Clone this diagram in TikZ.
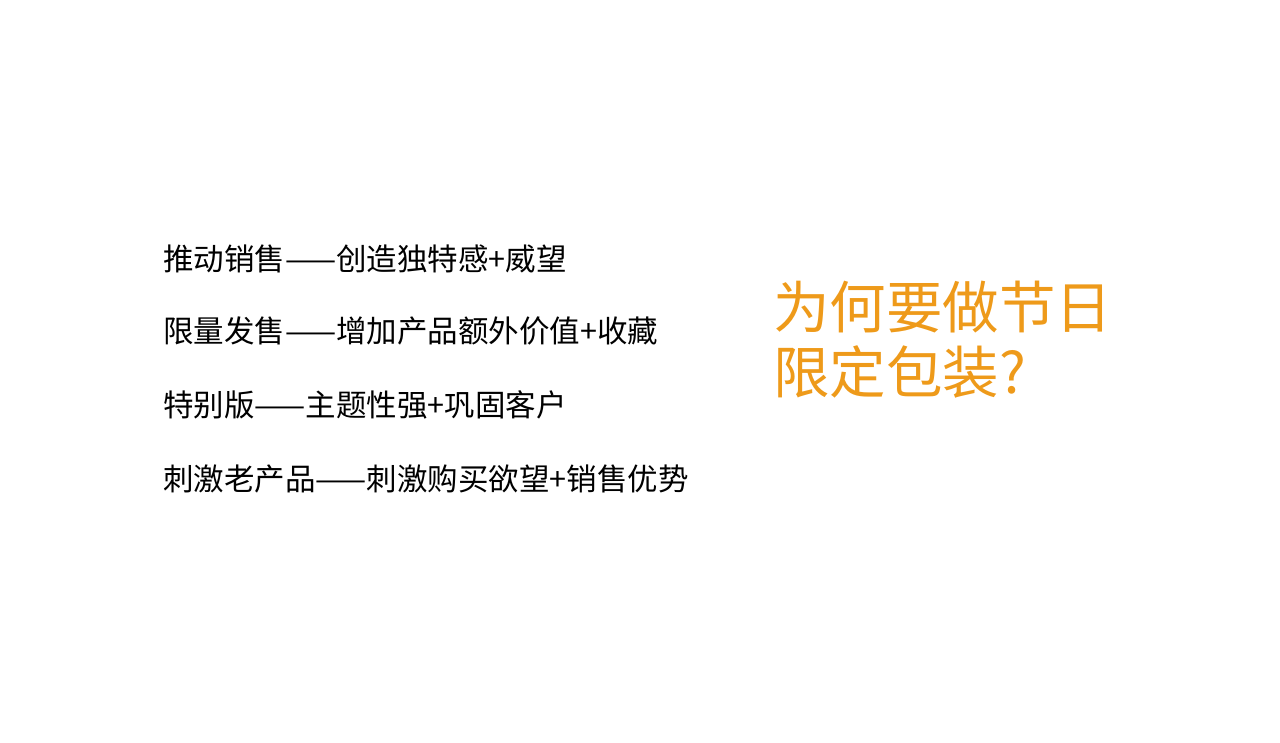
\documentclass[tikz,border=0pt]{standalone}
\usepackage{fontspec}
\newfontfamily\cjk{Noto Sans CJK SC}
\definecolor{org}{HTML}{EE9A1A}
\begin{document}
\begin{tikzpicture}[x=1pt,y=-1pt,
  item/.style={anchor=west,inner sep=0pt,font=\cjk\fontsize{30.5}{32}\selectfont},
  title/.style={anchor=west,inner sep=0pt,text=org,align=left,font=\cjk\fontsize{56.5}{65}\selectfont}]
\useasboundingbox (0,0) rectangle (1280,743);
\node[item] (a) at (163,259) {推动销售——创造独特感+威望};
\node[item] (b) at (163,331) {限量发售——增加产品额外价值+收藏};
\node[item] (c) at (163,405) {特别版——主题性强+巩固客户};
\node[item] (d) at (163,479) {刺激老产品——刺激购买欲望+销售优势};
\node[title] (t) at (773,340) {为何要做节日\\限定包装?};
\end{tikzpicture}
\end{document}
